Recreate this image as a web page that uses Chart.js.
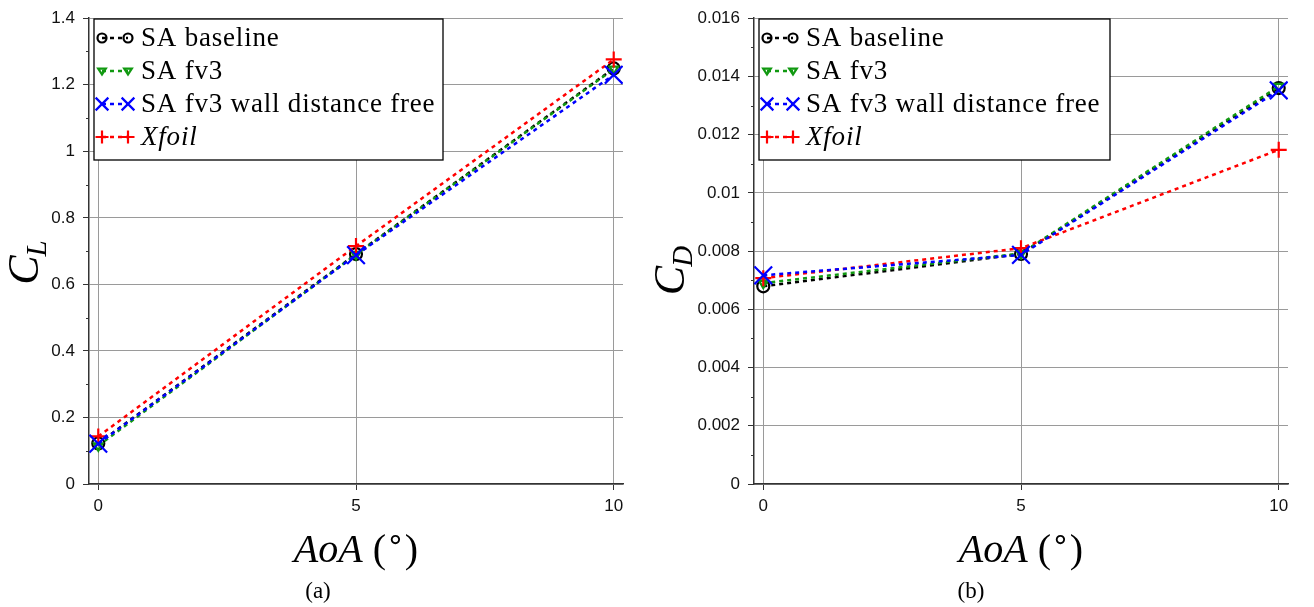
<!DOCTYPE html>
<html>
<head>
<meta charset="utf-8">
<script src="https://cdn.jsdelivr.net/npm/chart.js@4.4.0/dist/chart.umd.min.js"></script>
<style>
    html, body { margin: 0; background: #fff; }
    #wrap { position: relative; width: 1314px; height: 607px; }
    .panel { position: absolute; top: 0; height: 607px; }
</style>
</head>
<body>
<div id="wrap">
    <div class="panel" style="left:0;width:640px"><canvas id="clChart" width="640" height="607"></canvas></div>
    <div class="panel" style="left:640px;width:674px"><canvas id="cdChart" width="674" height="607"></canvas></div>
</div>
<script>
// angle of attack (deg)
const AOA = [0, 5, 10];
const AOA_TICKS = [0, 5, 10];

const SERIES_NAMES = ['SA baseline', 'SA fv3', 'SA fv3 wall distance free', 'Xfoil'];

// lift coefficient
const CL_BASELINE = [0.122, 0.691, 1.249];
const CL_FV3 = [0.115, 0.690, 1.247];
const CL_WALL_FREE = [0.121, 0.688, 1.230];
const CL_XFOIL = [0.143, 0.715, 1.276];
const CL_TICKS = [0, 0.2, 0.4, 0.6, 0.8, 1, 1.2, 1.4];

// drag coefficient
const CD_BASELINE = [0.00679, 0.00790, 0.01360];
const CD_FV3 = [0.00690, 0.00792, 0.01366];
const CD_WALL_FREE = [0.00717, 0.00787, 0.01352];
const CD_XFOIL = [0.00707, 0.00810, 0.01148];
const CD_TICKS = [0, 0.002, 0.004, 0.006, 0.008, 0.01, 0.012, 0.014, 0.016];

const STYLES = [
    { color: '#000000', point: 'circle', radius: 6, rot: 0, lr: 4.5, order: 3 },
    { color: '#119911', point: 'triangle', radius: 5, rot: 180, lr: 3.8, order: 2 },
    { color: '#0000ff', point: 'crossRot', radius: 12.5, rot: 0, lr: 9, order: 0 },
    { color: '#ff0000', point: 'cross', radius: 8, rot: 0, lr: 6.5, order: 1 }
];

const SERIF = '"Liberation Serif", "DejaVu Serif", serif';
const SANS = '"Liberation Sans", Arial, sans-serif';

function drawMarker(ctx, style, r, x, y) {
    ctx.save();
    ctx.strokeStyle = style.color;
    ctx.lineWidth = 2.2;
    ctx.setLineDash([]);
    ctx.beginPath();
    if (style.point === 'circle') {
        ctx.arc(x, y, r, 0, Math.PI * 2);
    } else if (style.point === 'triangle') {
        ctx.moveTo(x - r, y - r * 0.6);
        ctx.lineTo(x + r, y - r * 0.6);
        ctx.lineTo(x, y + r * 0.9);
        ctx.closePath();
    } else if (style.point === 'crossRot') {
        const d = r * 0.707;
        ctx.moveTo(x - d, y - d); ctx.lineTo(x + d, y + d);
        ctx.moveTo(x - d, y + d); ctx.lineTo(x + d, y - d);
    } else {
        ctx.moveTo(x - r, y); ctx.lineTo(x + r, y);
        ctx.moveTo(x, y - r); ctx.lineTo(x, y + r);
    }
    ctx.stroke();
    ctx.restore();
}

const extrasPlugin = {
    id: 'extras',
    afterDraw(chart, args, opts) {
        const ctx = chart.ctx;
        const area = chart.chartArea;
        const yScale = chart.scales.y;

        // minor ticks on the y axis
        ctx.save();
        ctx.strokeStyle = '#333';
        ctx.lineWidth = 1;
        const t = opts.yTicks;
        for (let i = 0; i < t.length - 1; i++) {
            const py = Math.round(yScale.getPixelForValue((t[i] + t[i + 1]) / 2)) + 0.5;
            ctx.beginPath();
            ctx.moveTo(area.left - 3, py);
            ctx.lineTo(area.left, py);
            ctx.stroke();
        }
        ctx.restore();

        // legend
        const lx = area.left + 5, ly = 19, lw = opts.legendWidth, lh = 141;
        ctx.save();
        ctx.fillStyle = '#fff';
        ctx.fillRect(lx, ly, lw, lh);
        ctx.strokeStyle = '#000';
        ctx.lineWidth = 1.3;
        ctx.strokeRect(lx, ly, lw, lh);
        const rows = [19, 52, 85, 118];
        SERIES_NAMES.forEach((name, i) => {
            const s = STYLES[i];
            const cy = ly + rows[i];
            ctx.save();
            ctx.strokeStyle = s.color;
            ctx.lineWidth = 2.5;
            ctx.setLineDash([4, 4]);
            ctx.beginPath();
            ctx.moveTo(lx + 8, cy);
            ctx.lineTo(lx + 34, cy);
            ctx.stroke();
            ctx.restore();
            drawMarker(ctx, s, s.lr, lx + 8, cy);
            drawMarker(ctx, s, s.lr, lx + 34, cy);
            ctx.fillStyle = '#000';
            ctx.textBaseline = 'middle';
            ctx.textAlign = 'left';
            ctx.letterSpacing = '0.8px';
            ctx.font = (i === 3 ? 'italic ' : '') + '27px ' + SERIF;
            ctx.fillText(name, lx + 47, cy + 1);
        });
        ctx.restore();

        // y axis title C_L / C_D
        ctx.save();
        ctx.translate(opts.yTitleX, opts.yTitleY);
        ctx.rotate(-Math.PI / 2);
        ctx.fillStyle = '#000';
        ctx.textBaseline = 'alphabetic';
        ctx.font = 'italic 44px ' + SERIF;
        const wc = ctx.measureText('C').width;
        ctx.font = 'italic 29px ' + SERIF;
        const ws = ctx.measureText(opts.sub).width;
        const x0 = -(wc + ws) / 2;
        ctx.font = 'italic 44px ' + SERIF;
        ctx.fillText('C', x0, 14);
        ctx.font = 'italic 29px ' + SERIF;
        ctx.fillText(opts.sub, x0 + wc - 1, 22);
        ctx.restore();

        // x axis title AoA (°)
        ctx.save();
        ctx.fillStyle = '#000';
        ctx.textBaseline = 'alphabetic';
        const parts = [
            { s: 'AoA', f: 'italic 40px ' + SERIF, dy: 0 },
            { s: ' (', f: '40px ' + SERIF, dy: 0 },
            { s: '\u2218', f: '30px "DejaVu Sans", sans-serif', dy: -13 },
            { s: ')', f: '40px ' + SERIF, dy: 0 }
        ];
        let total = 0;
        parts.forEach(p => { ctx.font = p.f; p.w = ctx.measureText(p.s).width; total += p.w; });
        let px = opts.xTitleX - total / 2;
        parts.forEach(p => {
            ctx.font = p.f;
            ctx.fillText(p.s, px, 562 + p.dy);
            px += p.w;
        });

        // caption
        ctx.font = '23px ' + SERIF;
        ctx.textAlign = 'center';
        ctx.fillText(opts.caption, opts.captionX, 598);
        ctx.restore();
    }
};

function buildDatasets(seriesList) {
    return seriesList.map((vals, i) => {
        const s = STYLES[i];
        return {
            label: SERIES_NAMES[i],
            data: AOA.map((x, k) => ({ x: x, y: vals[k] })),
            borderColor: s.color,
            borderWidth: 2.5,
            borderDash: [4, 4],
            pointStyle: s.point,
            pointRadius: s.radius,
            pointRotation: s.rot,
            pointBorderWidth: 2.2,
            pointBorderColor: s.color,
            pointBackgroundColor: 'rgba(0,0,0,0)',
            fill: false,
            tension: 0,
            order: s.order
        };
    });
}

function makeChart(id, seriesList, yTicks, yWidth, padRight, extras, fmt) {
    return new Chart(document.getElementById(id), {
        type: 'line',
        data: { datasets: buildDatasets(seriesList) },
        options: {
            responsive: false,
            animation: false,
            devicePixelRatio: 1,
            layout: { padding: { top: 12, right: padRight, left: 0, bottom: 0 } },
            plugins: {
                legend: { display: false },
                tooltip: { enabled: false },
                extras: Object.assign({ yTicks: yTicks }, extras)
            },
            scales: {
                x: {
                    type: 'linear',
                    min: -0.18,
                    max: 10.18,
                    afterBuildTicks: sc => { sc.ticks = AOA_TICKS.map(v => ({ value: v })); },
                    afterFit: sc => { sc.height = 123; },
                    grid: { color: '#9a9a9a', lineWidth: 1, tickColor: '#333', tickLength: 6 },
                    border: { color: '#333', width: 1.5 },
                    ticks: { color: '#111', font: { family: SANS, size: 17 }, padding: 6 }
                },
                y: {
                    type: 'linear',
                    min: yTicks[0],
                    max: yTicks[yTicks.length - 1],
                    afterBuildTicks: sc => { sc.ticks = yTicks.map(v => ({ value: v })); },
                    afterFit: sc => { sc.width = yWidth; },
                    grid: { color: '#9a9a9a', lineWidth: 1, tickColor: '#333', tickLength: 6 },
                    border: { color: '#333', width: 1.5 },
                    ticks: {
                        color: '#111',
                        font: { family: SANS, size: 17 },
                        padding: 8,
                        callback: fmt
                    }
                }
            }
        },
        plugins: [extrasPlugin]
    });
}

makeChart('clChart',
    [CL_BASELINE, CL_FV3, CL_WALL_FREE, CL_XFOIL],
    CL_TICKS, 89, 17,
    { legendWidth: 349, sub: 'L', yTitleX: 24, yTitleY: 262, xTitleX: 356, caption: '(a)', captionX: 318 },
    v => String(+v.toFixed(1)));

makeChart('cdChart',
    [CD_BASELINE, CD_FV3, CD_WALL_FREE, CD_XFOIL],
    CD_TICKS, 114, 26,
    { legendWidth: 351, sub: 'D', yTitleX: 30, yTitleY: 270, xTitleX: 381, caption: '(b)', captionX: 331 },
    v => String(+v.toFixed(3)));
</script>
</body>
</html>
